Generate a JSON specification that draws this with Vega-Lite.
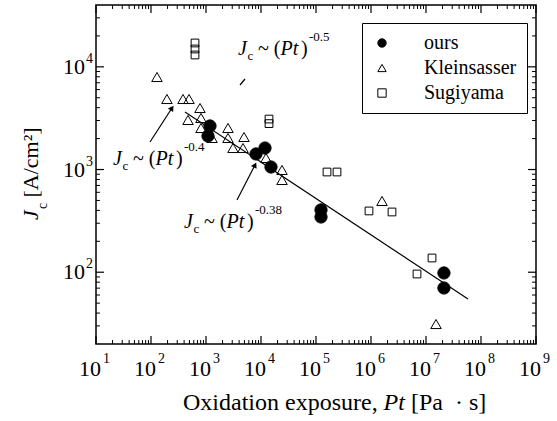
{
 "$schema": "https://vega.github.io/schema/vega-lite/v6.json",
 "autosize": {"type": "none"},
 "padding": {"left": 96, "top": 5, "right": 21, "bottom": 77},
 "width": 440,
 "height": 339,
 "background": "white",
 "config": {"view": {"stroke": "black", "strokeWidth": 1.5}},
 "datasets": {
  "kle": [
   {"x": 128.5, "y": 7962, "series": "Kleinsasser"},
   {"x": 195, "y": 4862, "series": "Kleinsasser"},
   {"x": 382, "y": 4862, "series": "Kleinsasser"},
   {"x": 491, "y": 4862, "series": "Kleinsasser"},
   {"x": 778, "y": 3973, "series": "Kleinsasser"},
   {"x": 811, "y": 3175, "series": "Kleinsasser"},
   {"x": 471, "y": 3036, "series": "Kleinsasser"},
   {"x": 811, "y": 2537, "series": "Kleinsasser"},
   {"x": 1286, "y": 2028, "series": "Kleinsasser"},
   {"x": 2512, "y": 2537, "series": "Kleinsasser"},
   {"x": 2512, "y": 2028, "series": "Kleinsasser"},
   {"x": 4910, "y": 2074, "series": "Kleinsasser"},
   {"x": 3097, "y": 1620, "series": "Kleinsasser"},
   {"x": 4707, "y": 1620, "series": "Kleinsasser"},
   {"x": 12330, "y": 1295, "series": "Kleinsasser"},
   {"x": 24090, "y": 990, "series": "Kleinsasser"},
   {"x": 24090, "y": 791, "series": "Kleinsasser"},
   {"x": 1585000, "y": 494, "series": "Kleinsasser"},
   {"x": 15200000, "y": 31.3, "series": "Kleinsasser"}
  ],
  "sug": [
   {"x": 631, "y": 17070, "series": "Sugiyama"},
   {"x": 631, "y": 14920, "series": "Sugiyama"},
   {"x": 631, "y": 13040, "series": "Sugiyama"},
   {"x": 13980, "y": 3100, "series": "Sugiyama"},
   {"x": 13980, "y": 2800, "series": "Sugiyama"},
   {"x": 158500, "y": 946, "series": "Sugiyama"},
   {"x": 240900, "y": 946, "series": "Sugiyama"},
   {"x": 919500, "y": 395, "series": "Sugiyama"},
   {"x": 2409000, "y": 386, "series": "Sugiyama"},
   {"x": 12860000, "y": 137.5, "series": "Sugiyama"},
   {"x": 6862000, "y": 96.1, "series": "Sugiyama"}
  ],
  "ours": [
   {"x": 1182, "y": 2654, "series": "ours"},
   {"x": 1087, "y": 2121, "series": "ours"},
   {"x": 8110, "y": 1417, "series": "ours"},
   {"x": 11820, "y": 1620, "series": "ours"},
   {"x": 15200, "y": 1058, "series": "ours"},
   {"x": 123300, "y": 404, "series": "ours"},
   {"x": 123300, "y": 345, "series": "ours"},
   {"x": 21200000, "y": 98.3, "series": "ours"},
   {"x": 21200000, "y": 70.2, "series": "ours"}
  ],
  "fit": [{"x": 415, "y": 3633}, {"x": 58000000, "y": 54.9}],
  "arrows": [
   {"x": 95.9, "y": 1854, "x2": 240.9, "y2": 3973},
   {"x": 3660, "y": 505, "x2": 7780, "y2": 1107},
   {"x": 4152, "y": 6654, "x2": 5118, "y2": 7613}
  ],
  "ann": [
   {"x": 3818, "y": 13037, "e": "-0.5"},
   {"x": 20.4, "y": 1107, "e": "-0.4"},
   {"x": 398, "y": 269.6, "e": "-0.38"}
  ],
  "xlab": [
   {"v": 10, "e": "1"}, {"v": 100, "e": "2"}, {"v": 1000, "e": "3"}, {"v": 10000, "e": "4"}, {"v": 100000, "e": "5"},
   {"v": 1000000, "e": "6"}, {"v": 10000000, "e": "7"}, {"v": 100000000, "e": "8"}, {"v": 1000000000, "e": "9"}
  ],
  "xmin": [
   {"v": 20}, {"v": 30}, {"v": 40}, {"v": 50}, {"v": 60}, {"v": 70}, {"v": 80}, {"v": 90},
   {"v": 200}, {"v": 300}, {"v": 400}, {"v": 500}, {"v": 600}, {"v": 700}, {"v": 800}, {"v": 900},
   {"v": 2000}, {"v": 3000}, {"v": 4000}, {"v": 5000}, {"v": 6000}, {"v": 7000}, {"v": 8000}, {"v": 9000},
   {"v": 20000}, {"v": 30000}, {"v": 40000}, {"v": 50000}, {"v": 60000}, {"v": 70000}, {"v": 80000}, {"v": 90000},
   {"v": 200000}, {"v": 300000}, {"v": 400000}, {"v": 500000}, {"v": 600000}, {"v": 700000}, {"v": 800000}, {"v": 900000},
   {"v": 2000000}, {"v": 3000000}, {"v": 4000000}, {"v": 5000000}, {"v": 6000000}, {"v": 7000000}, {"v": 8000000}, {"v": 9000000},
   {"v": 20000000}, {"v": 30000000}, {"v": 40000000}, {"v": 50000000}, {"v": 60000000}, {"v": 70000000}, {"v": 80000000}, {"v": 90000000},
   {"v": 200000000}, {"v": 300000000}, {"v": 400000000}, {"v": 500000000}, {"v": 600000000}, {"v": 700000000}, {"v": 800000000}, {"v": 900000000}
  ],
  "ylab": [{"v": 100, "e": "2"}, {"v": 1000, "e": "3"}, {"v": 10000, "e": "4"}],
  "ymin": [
   {"v": 30}, {"v": 40}, {"v": 50}, {"v": 60}, {"v": 70}, {"v": 80}, {"v": 90},
   {"v": 200}, {"v": 300}, {"v": 400}, {"v": 500}, {"v": 600}, {"v": 700}, {"v": 800}, {"v": 900},
   {"v": 2000}, {"v": 3000}, {"v": 4000}, {"v": 5000}, {"v": 6000}, {"v": 7000}, {"v": 8000}, {"v": 9000},
   {"v": 20000}, {"v": 30000}
  ]
 },
 "layer": [
  {
   "data": {"name": "xlab"},
   "mark": {"type": "rule", "color": "black", "strokeWidth": 1.2},
   "encoding": {
    "x": {"field": "v", "type": "quantitative", "scale": {"type": "log", "domain": [10, 1000000000], "nice": false, "zero": false}, "axis": null},
    "y": {"datum": 20, "type": "quantitative", "scale": {"type": "log", "domain": [20, 40000], "nice": false, "zero": false}, "axis": null},
    "y2": {"datum": 23.93}
   }
  },
  {
   "data": {"name": "xlab"},
   "mark": {"type": "rule", "color": "black", "strokeWidth": 1.2},
   "encoding": {"x": {"field": "v", "type": "quantitative", "axis": null}, "y": {"datum": 40000, "type": "quantitative", "axis": null}, "y2": {"datum": 33437}}
  },
  {
   "data": {"name": "xmin"},
   "mark": {"type": "rule", "color": "black", "strokeWidth": 1},
   "encoding": {"x": {"field": "v", "type": "quantitative", "axis": null}, "y": {"datum": 20, "type": "quantitative", "axis": null}, "y2": {"datum": 21.88}}
  },
  {
   "data": {"name": "xmin"},
   "mark": {"type": "rule", "color": "black", "strokeWidth": 1},
   "encoding": {"x": {"field": "v", "type": "quantitative", "axis": null}, "y": {"datum": 40000, "type": "quantitative", "axis": null}, "y2": {"datum": 36570}}
  },
  {
   "data": {"name": "ylab"},
   "mark": {"type": "rule", "color": "black", "strokeWidth": 1.2},
   "encoding": {"y": {"field": "v", "type": "quantitative", "axis": null}, "x": {"datum": 10, "type": "quantitative", "axis": null}, "x2": {"datum": 13.98}}
  },
  {
   "data": {"name": "ylab"},
   "mark": {"type": "rule", "color": "black", "strokeWidth": 1.2},
   "encoding": {"y": {"field": "v", "type": "quantitative", "axis": null}, "x": {"datum": 1000000000, "type": "quantitative", "axis": null}, "x2": {"datum": 715300000}}
  },
  {
   "data": {"name": "ymin"},
   "mark": {"type": "rule", "color": "black", "strokeWidth": 1},
   "encoding": {"y": {"field": "v", "type": "quantitative", "axis": null}, "x": {"datum": 10, "type": "quantitative", "axis": null}, "x2": {"datum": 11.82}}
  },
  {
   "data": {"name": "ymin"},
   "mark": {"type": "rule", "color": "black", "strokeWidth": 1},
   "encoding": {"y": {"field": "v", "type": "quantitative", "axis": null}, "x": {"datum": 1000000000, "type": "quantitative", "axis": null}, "x2": {"datum": 846000000}}
  },
  {
   "data": {"name": "fit"},
   "mark": {"type": "line", "color": "black", "strokeWidth": 1.2},
   "encoding": {"x": {"field": "x", "type": "quantitative", "axis": null}, "y": {"field": "y", "type": "quantitative", "axis": null}}
  },
  {
   "data": {"name": "arrows"},
   "mark": {"type": "rule", "color": "black", "strokeWidth": 1.2},
   "encoding": {
    "x": {"field": "x", "type": "quantitative", "axis": null},
    "y": {"field": "y", "type": "quantitative", "axis": null},
    "x2": {"field": "x2"},
    "y2": {"field": "y2"}
   }
  },
  {
   "data": {"values": [{"x": 240.9, "y": 3973}]},
   "mark": {"type": "point", "shape": "triangle-up", "filled": true, "color": "black", "size": 40, "angle": 33, "opacity": 1},
   "encoding": {"x": {"field": "x", "type": "quantitative", "axis": null}, "y": {"field": "y", "type": "quantitative", "axis": null}}
  },
  {
   "data": {"values": [{"x": 7780, "y": 1107}]},
   "mark": {"type": "point", "shape": "triangle-up", "filled": true, "color": "black", "size": 40, "angle": 27, "opacity": 1},
   "encoding": {"x": {"field": "x", "type": "quantitative", "axis": null}, "y": {"field": "y", "type": "quantitative", "axis": null}}
  },
  {
   "data": {"name": "kle"},
   "mark": {"type": "point", "filled": true, "strokeWidth": 1, "opacity": 1, "size": 110},
   "encoding": {
    "x": {"field": "x", "type": "quantitative", "axis": null},
    "y": {"field": "y", "type": "quantitative", "axis": null},
    "shape": {"field": "series", "type": "nominal", "scale": {"domain": ["ours", "Kleinsasser", "Sugiyama"], "range": ["circle", "triangle-up", "square"]},
     "legend": {"title": null, "orient": "none", "legendX": 266, "legendY": 18, "strokeColor": "black", "fillColor": "white", "padding": 10, "symbolOffset": 0, "labelOffset": 32, "rowPadding": 5, "labelFont": "Liberation Serif, Times New Roman, serif", "labelFontSize": 20, "labelColor": "black", "symbolSize": 70, "symbolStrokeWidth": 1, "labelExpr": "datum.label + '\u00a0\u00a0\u00a0\u00a0'"}},
    "fill": {"field": "series", "type": "nominal", "scale": {"domain": ["ours", "Kleinsasser", "Sugiyama"], "range": ["black", "transparent", "transparent"]},
     "legend": {"title": null, "orient": "none", "legendX": 266, "legendY": 18, "strokeColor": "black", "fillColor": "white", "padding": 10, "symbolOffset": 0, "labelOffset": 32, "rowPadding": 5, "labelFont": "Liberation Serif, Times New Roman, serif", "labelFontSize": 20, "labelColor": "black", "symbolSize": 70, "symbolStrokeWidth": 1, "labelExpr": "datum.label + '\u00a0\u00a0\u00a0\u00a0'"}},
    "stroke": {"field": "series", "type": "nominal", "scale": {"domain": ["ours", "Kleinsasser", "Sugiyama"], "range": ["black", "black", "black"]},
     "legend": {"title": null, "orient": "none", "legendX": 266, "legendY": 18, "strokeColor": "black", "fillColor": "white", "padding": 10, "symbolOffset": 0, "labelOffset": 32, "rowPadding": 5, "labelFont": "Liberation Serif, Times New Roman, serif", "labelFontSize": 20, "labelColor": "black", "symbolSize": 70, "symbolStrokeWidth": 1, "labelExpr": "datum.label + '\u00a0\u00a0\u00a0\u00a0'"}}
   }
  },
  {
   "data": {"name": "sug"},
   "mark": {"type": "point", "filled": true, "strokeWidth": 1, "opacity": 1, "size": 60},
   "encoding": {
    "x": {"field": "x", "type": "quantitative", "axis": null},
    "y": {"field": "y", "type": "quantitative", "axis": null},
    "shape": {"field": "series", "type": "nominal"},
    "fill": {"field": "series", "type": "nominal"},
    "stroke": {"field": "series", "type": "nominal"}
   }
  },
  {
   "data": {"name": "ours"},
   "mark": {"type": "point", "filled": true, "strokeWidth": 1, "opacity": 1, "size": 150},
   "encoding": {
    "x": {"field": "x", "type": "quantitative", "axis": null},
    "y": {"field": "y", "type": "quantitative", "axis": null},
    "shape": {"field": "series", "type": "nominal"},
    "fill": {"field": "series", "type": "nominal"},
    "stroke": {"field": "series", "type": "nominal"}
   }
  },
  {
   "data": {"name": "ann"},
   "mark": {"type": "text", "text": "J", "font": "Liberation Serif, Times New Roman, serif", "color": "black", "align": "left", "baseline": "alphabetic", "fontSize": 20, "fontStyle": "italic"},
   "encoding": {"x": {"field": "x", "type": "quantitative", "axis": null}, "y": {"field": "y", "type": "quantitative", "axis": null}}
  },
  {
   "data": {"name": "ann"},
   "mark": {"type": "text", "text": "c", "font": "Liberation Serif, Times New Roman, serif", "color": "black", "align": "left", "baseline": "alphabetic", "fontSize": 13, "dx": 9.5, "dy": 5},
   "encoding": {"x": {"field": "x", "type": "quantitative", "axis": null}, "y": {"field": "y", "type": "quantitative", "axis": null}}
  },
  {
   "data": {"name": "ann"},
   "mark": {"type": "text", "text": "~ (", "font": "Liberation Serif, Times New Roman, serif", "color": "black", "align": "left", "baseline": "alphabetic", "fontSize": 20, "dx": 20},
   "encoding": {"x": {"field": "x", "type": "quantitative", "axis": null}, "y": {"field": "y", "type": "quantitative", "axis": null}}
  },
  {
   "data": {"name": "ann"},
   "mark": {"type": "text", "text": "Pt", "font": "Liberation Serif, Times New Roman, serif", "color": "black", "align": "left", "baseline": "alphabetic", "fontSize": 20, "fontStyle": "italic", "dx": 42.5},
   "encoding": {"x": {"field": "x", "type": "quantitative", "axis": null}, "y": {"field": "y", "type": "quantitative", "axis": null}}
  },
  {
   "data": {"name": "ann"},
   "mark": {"type": "text", "text": ")", "font": "Liberation Serif, Times New Roman, serif", "color": "black", "align": "left", "baseline": "alphabetic", "fontSize": 20, "dx": 63},
   "encoding": {"x": {"field": "x", "type": "quantitative", "axis": null}, "y": {"field": "y", "type": "quantitative", "axis": null}}
  },
  {
   "data": {"name": "ann"},
   "mark": {"type": "text", "font": "Liberation Serif, Times New Roman, serif", "color": "black", "align": "left", "baseline": "alphabetic", "fontSize": 13, "dx": 71, "dy": -14},
   "encoding": {"x": {"field": "x", "type": "quantitative", "axis": null}, "y": {"field": "y", "type": "quantitative", "axis": null}, "text": {"field": "e"}}
  },
  {
   "data": {"name": "xlab"},
   "mark": {"type": "text", "text": "10", "font": "Liberation Serif, Times New Roman, serif", "color": "black", "align": "right", "baseline": "alphabetic", "fontSize": 22, "dx": 5, "dy": 32},
   "encoding": {"x": {"field": "v", "type": "quantitative", "axis": null}, "y": {"datum": 20, "type": "quantitative", "axis": null}}
  },
  {
   "data": {"name": "xlab"},
   "mark": {"type": "text", "font": "Liberation Serif, Times New Roman, serif", "color": "black", "align": "left", "baseline": "alphabetic", "fontSize": 14, "dx": 7, "dy": 19},
   "encoding": {"x": {"field": "v", "type": "quantitative", "axis": null}, "y": {"datum": 20, "type": "quantitative", "axis": null}, "text": {"field": "e"}}
  },
  {
   "data": {"name": "ylab"},
   "mark": {"type": "text", "text": "10", "font": "Liberation Serif, Times New Roman, serif", "color": "black", "align": "right", "baseline": "alphabetic", "fontSize": 22, "dx": -11, "dy": 7},
   "encoding": {"x": {"datum": 10, "type": "quantitative", "axis": null}, "y": {"field": "v", "type": "quantitative", "axis": null}}
  },
  {
   "data": {"name": "ylab"},
   "mark": {"type": "text", "font": "Liberation Serif, Times New Roman, serif", "color": "black", "align": "left", "baseline": "alphabetic", "fontSize": 14, "dx": -10, "dy": -4},
   "encoding": {"x": {"datum": 10, "type": "quantitative", "axis": null}, "y": {"field": "v", "type": "quantitative", "axis": null}, "text": {"field": "e"}}
  },
  {
   "data": {"values": [{}]},
   "mark": {"type": "text", "text": "Oxidation exposure,", "font": "Liberation Serif, Times New Roman, serif", "color": "black", "align": "left", "baseline": "alphabetic", "fontSize": 24, "dx": -133, "dy": 66},
   "encoding": {"x": {"datum": 100000, "type": "quantitative", "axis": null}, "y": {"datum": 20, "type": "quantitative", "axis": null}}
  },
  {
   "data": {"values": [{}]},
   "mark": {"type": "text", "text": "Pt", "font": "Liberation Serif, Times New Roman, serif", "color": "black", "align": "left", "baseline": "alphabetic", "fontSize": 24, "fontStyle": "italic", "dx": 67.6, "dy": 66},
   "encoding": {"x": {"datum": 100000, "type": "quantitative", "axis": null}, "y": {"datum": 20, "type": "quantitative", "axis": null}}
  },
  {
   "data": {"values": [{}]},
   "mark": {"type": "text", "text": "[Pa\u00a0\u00a0·\u00a0s]", "font": "Liberation Serif, Times New Roman, serif", "color": "black", "align": "left", "baseline": "alphabetic", "fontSize": 24, "dx": 95, "dy": 66},
   "encoding": {"x": {"datum": 100000, "type": "quantitative", "axis": null}, "y": {"datum": 20, "type": "quantitative", "axis": null}}
  },
  {
   "data": {"values": [{}]},
   "mark": {"type": "text", "text": "J", "font": "Liberation Serif, Times New Roman, serif", "color": "black", "align": "left", "baseline": "alphabetic", "fontSize": 22, "fontStyle": "italic", "angle": 270, "dx": 124, "dy": -58},
   "encoding": {"x": {"datum": 10, "type": "quantitative", "axis": null}, "y": {"datum": 20, "type": "quantitative", "axis": null}}
  },
  {
   "data": {"values": [{}]},
   "mark": {"type": "text", "text": "c", "font": "Liberation Serif, Times New Roman, serif", "color": "black", "align": "left", "baseline": "alphabetic", "fontSize": 14, "angle": 270, "dx": 135, "dy": -49},
   "encoding": {"x": {"datum": 10, "type": "quantitative", "axis": null}, "y": {"datum": 20, "type": "quantitative", "axis": null}}
  },
  {
   "data": {"values": [{}]},
   "mark": {"type": "text", "text": "[A/cm²]", "font": "Liberation Serif, Times New Roman, serif", "color": "black", "align": "left", "baseline": "alphabetic", "fontSize": 22, "angle": 270, "dx": 146.5, "dy": -58},
   "encoding": {"x": {"datum": 10, "type": "quantitative", "axis": null}, "y": {"datum": 20, "type": "quantitative", "axis": null}}
  }
 ]
}
